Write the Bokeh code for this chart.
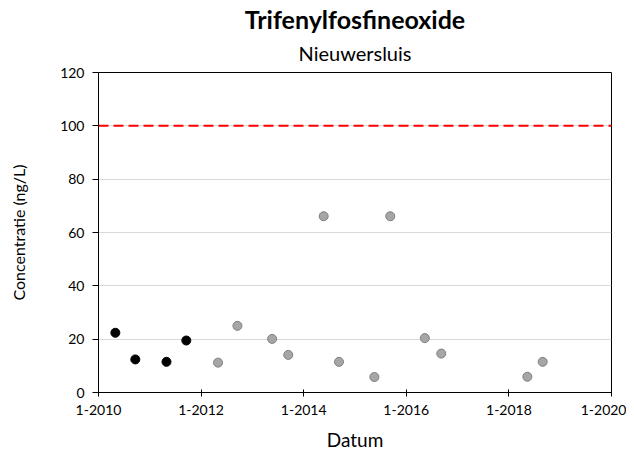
import pandas as pd
from bokeh.plotting import figure
from bokeh.models import (FixedTicker, DatetimeTickFormatter, Span, Title,
                          Range1d, ColumnDataSource)
from bokeh.embed import file_html
from bokeh.resources import INLINE

title = "Trifenylfosfineoxide"
subtitle = "Nieuwersluis"
x_label = "Datum"
y_label = "Concentratie (ng/L)"
limit_value = 100
x_tick_years = [2010, 2012, 2014, 2016, 2018, 2020]
y_ticks = [0, 20, 40, 60, 80, 100, 120]

black_dates = ["2010-05-01", "2010-09-20", "2011-04-30", "2011-09-18"]
black_values = [22.4, 12.4, 11.5, 19.5]

gray_dates = ["2012-05-01", "2012-09-16", "2013-05-21", "2013-09-13",
              "2014-05-23", "2014-09-09", "2015-05-19", "2015-09-09",
              "2016-05-12", "2016-09-06", "2018-05-12", "2018-08-29"]
gray_values = [11.2, 25.0, 20.1, 14.1, 66.1, 11.5, 5.8, 66.1,
               20.4, 14.6, 5.9, 11.5]

FONT = "Lato"

x_start = pd.Timestamp(f"{x_tick_years[0]}-01-01")
x_end = pd.Timestamp(f"{x_tick_years[-1]}-01-01")

p = figure(width=626, height=454, x_axis_type="datetime",
           output_backend="svg", toolbar_location=None,
           x_range=Range1d(x_start, x_end), y_range=Range1d(y_ticks[0], y_ticks[-1]),
           min_border_left=98, min_border_right=15, min_border_bottom=62,
           min_border_top=72)

p.add_layout(Title(text=subtitle, align="center", text_font=FONT,
                   text_font_size="20px", text_font_style="normal",
                   text_color="black", standoff=15), "above")
p.add_layout(Title(text=title, align="center", text_font=FONT,
                   text_font_size="25px", text_font_style="bold",
                   text_color="black", standoff=-4), "above")

p.outline_line_color = "black"
p.outline_line_width = 1
p.background_fill_color = "white"
p.border_fill_color = "white"

tick_ms = [pd.Timestamp(f"{y}-01-01").value / 1e6 for y in x_tick_years]
p.xaxis.ticker = FixedTicker(ticks=tick_ms)
p.xaxis.formatter = DatetimeTickFormatter(years="1-%Y", months="1-%Y",
                                          days="1-%Y")
p.yaxis.ticker = FixedTicker(ticks=y_ticks)

for ax in (p.xaxis, p.yaxis):
    ax.axis_line_color = "black"
    ax.axis_line_width = 1
    ax.major_tick_line_color = "black"
    ax.minor_tick_line_color = None
    ax.major_label_text_font = FONT
    ax.major_label_text_font_size = "14px"
    ax.major_label_text_color = "black"
    ax.axis_label_text_font = FONT
    ax.axis_label_text_font_style = "normal"
    ax.axis_label_text_color = "black"

p.xaxis.axis_label_text_font_size = "19px"
p.yaxis.axis_label_text_font_size = "16px"

p.xaxis.major_tick_in = 3
p.xaxis.major_tick_out = 4
p.xaxis.major_label_standoff = 8
p.xaxis.axis_label = x_label
p.xaxis.axis_label_standoff = 10
p.yaxis.major_tick_in = 0
p.yaxis.major_tick_out = 6
p.yaxis.major_label_standoff = 8
p.yaxis.axis_label = y_label
p.yaxis.axis_label_standoff = 29

p.xgrid.grid_line_color = None
p.ygrid.grid_line_color = "#d9d9d9"
p.ygrid.grid_line_width = 1

p.add_layout(Span(location=limit_value, dimension="width", line_color="#ff0000",
                  line_width=2, line_dash="10 5"))

src_b = ColumnDataSource(dict(x=pd.to_datetime(black_dates), y=black_values))
src_g = ColumnDataSource(dict(x=pd.to_datetime(gray_dates), y=gray_values))
p.scatter("x", "y", source=src_b, size=9, marker="circle",
          fill_color="black", line_color="black", line_width=1)
p.scatter("x", "y", source=src_g, size=9, marker="circle",
          fill_color="#a6a6a6", line_color="#7f7f7f", line_width=1)

open("out.html", "w").write(file_html(p, INLINE))
